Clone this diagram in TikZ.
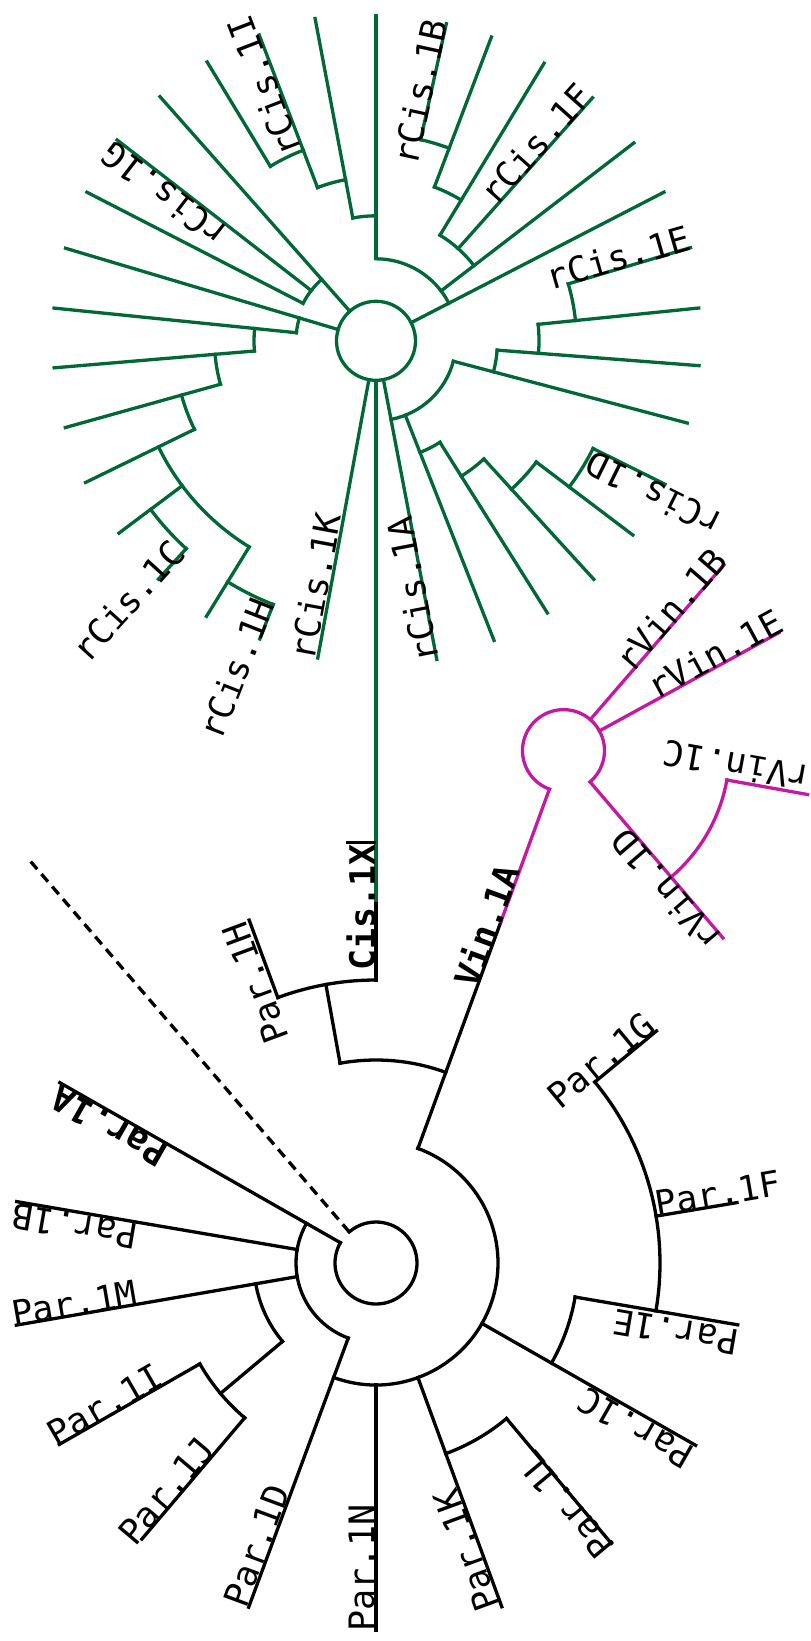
\documentclass[tikz,border=0pt]{standalone}
\usepackage{fontspec}
\setmonofont{DejaVu Sans Mono}
\definecolor{cisgreen}{RGB}{0,104,55}
\definecolor{vinpink}{RGB}{196,26,162}

\begin{document}
\begin{tikzpicture}[x=1pt,y=1pt,
    branch/.style={draw,line width=3.3pt,line cap=rect},
    tiplab/.style={font=\ttfamily\fontsize{35}{40}\selectfont,inner sep=0pt},
    boldlab/.style={font=\ttfamily\bfseries\fontsize{35}{40}\selectfont,inner sep=0pt}]
  \useasboundingbox (0,0) rectangle (811,-1641);

  % Par clade around the lower root circle
  \begin{scope}[shift={(376,-1263)}]
    \path[draw,line width=3.3pt,dash pattern=on 10pt off 6.5pt] (130.7:41) -- (130.7:534);
    \foreach \r/\a/\b in {41/130.7/-209.7,80/150.3/249.7,122/189.8/220,203/209.8/229.7,
                          122/-110.3/70,203/-69.9/-50,202/-29.7/-9.7,284/-9.7/39.6,
                          203/69.9/100.2,283/90/110.3}
      \path[branch] (\a:\r) arc[start angle=\a,end angle=\b,radius=\r];
    \foreach \a/\r/\R in {150.3/41/364,170.3/80/364.5,189.8/80/365,220/122/203,
                          209.8/203/365,229.7/203/362,249.7/80/367,270/122/367,
                          -69.9/122/366,-50/203/366,-29.7/122/368,-9.7/202/367,
                          9.5/284/366,39.6/284/364,69.9/122/363.7,100.2/203/283,
                          110.3/283/365.6,90/283/363}
      \path[branch] (\a:\r) -- (\a:\R);
    \path[branch,cisgreen] (90:363) -- (90:882.7);
    \path[branch,vinpink] (69.9:363.7) -- (69.9:504.6);
  \end{scope}

  % Cis clade
  \begin{scope}[shift={(376,-340.8)},cisgreen]
    \path[branch] (0,0) circle[radius=39.5];
    \foreach \r/\a/\b in {82/27.3/90,123.5/37.5/58.8,164.5/58.8/69.2,206/69.2/77.5,
                          125/90/100.7,164/100.7/110.9,204/110.9/121.2,82/131.5/152.8,
                          80/163.4/174.2,122/174.2/184.8,161.5/184.8/195.6,202/195.6/206,
                          242/206/238.4,281.5/216.8/227.6,283/238.4/248.7,80/-79.2/-14.8,
                          120/-68.5/-57.8,160/-57.8/-47.6,201/-47.6/-37.1,242.3/-37.1/-26.4,
                          121.5/-14.8/-4.4,163/-4.4/5.8,200.5/5.8/16.5}
      \path[branch] (\a:\r) arc[start angle=\a,end angle=\b,radius=\r];
    \foreach \a/\r/\R in {27.3/39.5/324,37.5/82/325,48.3/123.5/325.4,58.8/123.5/324.5,
                          69.2/164.5/325,77.5/206/324.8,90/82/325.3,100.7/125/328,
                          110.9/164/327.4,121.2/204/326,131.5/39.5/326,142.2/82/327.7,
                          152.8/82/325,163.4/39.5/324,174.2/80/323.6,184.8/122/323,
                          195.6/161.5/322.6,206/202/323.2,216.8/242/321,227.6/281.5/322.7,
                          238.4/242/323.5,248.7/283/320,259.6/39.5/322.5,-79.2/39.5/324.4,
                          -68.5/80/322,-57.8/120/321.6,-47.6/160/323,-37.1/201/322,
                          -26.4/242.3/322.6,-14.8/80/322,-4.4/121.5/324,5.8/163/324.4,
                          16.5/200.5/328}
      \path[branch] (\a:\r) -- (\a:\R);
  \end{scope}

  % Vin clade
  \begin{scope}[shift={(563.5,-750.6)},vinpink]
    \path[branch] (249.9:41) arc[start angle=249.9,end angle=-49.6,radius=41];
    \path[branch] (-49.6:166) arc[start angle=-49.6,end angle=-10.2,radius=166];
    \foreach \a/\r/\R in {49.2/41/245.6,28.7/41/245.6,-49.6/41/246,-10.2/166/248}
      \path[branch] (\a:\r) -- (\a:\R);
  \end{scope}

  % tip labels
  \node[boldlab,rotate=150.3] (par1a) at (109,-1126.5) {Par.1A};
  \node[tiplab,rotate=170.3] (par1b) at (75,-1226) {Par.1B};
  \node[tiplab,rotate=9.8] (par1m) at (74.2,-1303.3) {Par.1M};
  \node[tiplab,rotate=29.9] (par1i) at (105,-1405) {Par.1I};
  \node[tiplab,rotate=49.8] (par1j) at (166.3,-1490.8) {Par.1J};
  \node[tiplab,rotate=69.7] (par1d) at (256.7,-1545.8) {Par.1D};
  \node[tiplab,rotate=90] (par1n) at (361.5,-1568) {Par.1N};
  \node[tiplab,rotate=110.1] (par1k) at (466.7,-1550.8) {Par.1K};
  \node[tiplab,rotate=130] (par1l) at (565.8,-1505) {Par.1L};
  \node[tiplab,rotate=150.4] (par1c) at (635.4,-1428.3) {Par.1C};
  \node[tiplab,rotate=170.3] (par1e) at (675.7,-1331.7) {Par.1E};
  \node[tiplab,rotate=9.6] (par1f) at (718,-1193.5) {Par.1F};
  \node[tiplab,rotate=39.5] (par1g) at (600.8,-1060) {Par.1G};
  \node[tiplab,rotate=110.3] (par1h) at (255.7,-983) {Par.1H};
  \node[boldlab,rotate=90] (cis1x) at (361,-907.5) {Cis.1X};
  \node[boldlab,rotate=69.9] (vin1a) at (485.7,-925.6) {Vin.1A};
  \path[draw,line width=3pt] ([yshift=2pt]cis1x.north east) -- ([yshift=2pt]cis1x.south east);

  \node[tiplab,rotate=111] (rcis1i) at (264.3,-86.6) {rCis.1I};
  \node[tiplab,rotate=77.8] (rcis1b) at (420,-91.8) {rCis.1B};
  \node[tiplab,rotate=48.2] (rcis1f) at (536.1,-144) {rCis.1F};
  \node[tiplab,rotate=16.1] (rcis1e) at (618.1,-257.3) {rCis.1E};
  \node[tiplab,rotate=142.2] (rcis1g) at (164.2,-194.7) {rCis.1G};
  \node[tiplab,rotate=153.6] (rcis1d) at (653.8,-494) {rCis.1D};
  \node[tiplab,rotate=47.7] (rcis1c) at (128,-600.8) {rCis.1C};
  \node[tiplab,rotate=68.6] (rcis1h) at (236.6,-668.5) {rCis.1H};
  \node[tiplab,rotate=79.5] (rcis1k) at (315.5,-586.3) {rCis.1K};
  \node[tiplab,rotate=100.8] (rcis1a) at (412.5,-589.6) {rCis.1A};

  \node[tiplab,rotate=49] (rvin1b) at (670.5,-609.8) {rVin.1B};
  \node[tiplab,rotate=28.6] (rvin1e) at (714.6,-653.6) {rVin.1E};
  \node[tiplab,rotate=169.8] (rvin1c) at (736.2,-766.1) {rVin.1C};
  \node[tiplab,rotate=130.6] (rvin1d) at (666,-890) {rVin.1D};
\end{tikzpicture}
\end{document}
